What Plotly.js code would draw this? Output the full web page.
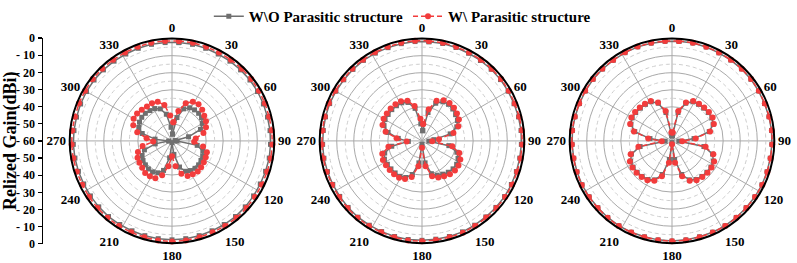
<!DOCTYPE html>
<html>
<head>
<meta charset="utf-8">
<script src="https://cdn.plot.ly/plotly-3.0.1.min.js"></script>
<style>
  html, body { margin: 0; padding: 0; background: #ffffff; }
  #chart { width: 797px; height: 263px; }
</style>
</head>
<body>
<div id="chart"></div>
<script>
// Sample angles (deg) of the measured points
const angles = [4, 12, 20, 28, 36, 44, 52, 60, 68, 76, 84, 92, 100, 108, 116, 124, 132, 140, 148, 156, 164, 172, 180,
                188, 196, 204, 212, 220, 228, 236, 244, 252, 260, 268, 276, 284, 292, 300, 308, 316, 324, 332, 340, 348, 356];

// Panel A
const woOuterA = [-2.2, -2.1, -2.2, -2.3, -2.2, -2.1, -2.0, -2.1, -2.2, -2.3, -2.2, -2.2, -2.1, -2.3, -2.4, -2.3, -2.2, -2.1, -2.2, -2.3, -2.2, -2.1, -2.0,
                  -2.1, -2.2, -2.3, -2.2, -2.1, -2.2, -2.3, -2.4, -2.3, -2.2, -2.1, -2.2, -2.3, -2.2, -2.1, -2.0, -2.1, -2.2, -2.3, -2.2, -2.1, -2.2];
const woInnerA = [-56, -46, -40, -38, -37.5, -37.5, -38, -39.5, -42, -50, -58, -57, -45, -41, -40, -39.5, -39, -39, -39.5, -40.5, -44, -52, -59,
                  -50, -42, -39.5, -38.5, -38.5, -39, -39.5, -40.5, -43, -50, -58, -50, -42, -39, -38, -37.5, -37.5, -38, -38.5, -40, -44, -52];
const wOuterA  = [-1.2, -1.1, -1.2, -1.3, -1.2, -1.1, -1.0, -1.1, -1.2, -1.3, -1.2, -1.1, -1.2, -1.3, -1.4, -1.3, -1.2, -1.1, -1.2, -1.3, -1.2, -1.1, -1.0,
                  -1.1, -1.2, -1.3, -1.2, -1.1, -1.2, -1.3, -1.4, -1.3, -1.2, -1.1, -1.2, -1.3, -1.2, -1.1, -1.0, -1.1, -1.2, -1.3, -1.2, -1.1, -1.2];
const wInnerA  = [-49, -42, -36.5, -34, -33.5, -34.5, -36, -37, -38.5, -41, -46, -47, -41.5, -38.5, -38, -37.5, -37, -36.5, -37, -37.5, -40, -45, -51,
                  -45, -39, -36, -35.5, -35.5, -36.5, -37, -37.5, -39, -42.5, -49, -45, -39, -35.5, -34, -34, -34.5, -35, -35, -35.5, -38.5, -45];

// Panel B
const woOuterB = [-1.7, -1.6, -1.7, -1.8, -1.7, -1.6, -1.6, -1.7, -1.8, -1.7, -1.6, -1.7, -1.8, -1.8, -1.7, -1.6, -1.7, -1.8, -1.7, -1.6, -1.7, -1.8, -1.7,
                  -1.6, -1.7, -1.8, -1.7, -1.6, -1.7, -1.8, -1.8, -1.7, -1.6, -1.7, -1.8, -1.7, -1.6, -1.7, -1.8, -1.7, -1.6, -1.7, -1.8, -1.7, -1.6];
const woInnerB = [-54, -43, -36.5, -34, -33.5, -34, -35, -36, -38, -43, -53, -56, -44, -38.5, -36.5, -35.5, -35.5, -36, -37, -38, -40, -47, -58,
                  -47, -39.5, -36.5, -35.5, -35.5, -35.5, -35.5, -35.5, -37, -42, -52, -46, -39.5, -36, -35, -34.8, -34.5, -34.5, -34.7, -36, -40.5, -50];
const wOuterB  = [-1.2, -1.1, -1.2, -1.3, -1.2, -1.1, -1.1, -1.2, -1.3, -1.2, -1.1, -1.2, -1.3, -1.3, -1.2, -1.1, -1.2, -1.3, -1.2, -1.1, -1.2, -1.3, -1.2,
                  -1.1, -1.2, -1.3, -1.2, -1.1, -1.2, -1.3, -1.3, -1.2, -1.1, -1.2, -1.3, -1.2, -1.1, -1.2, -1.3, -1.2, -1.1, -1.2, -1.3, -1.2, -1.1];
const wInnerB  = [-50, -41, -35, -33, -32.5, -33, -34, -35, -37, -41, -50, -54, -42, -37, -35, -34.2, -34, -34.5, -35.5, -36.5, -38.5, -45, -56,
                  -45, -38, -35.5, -34.6, -34.5, -34.5, -34.5, -34.5, -35.5, -40, -51, -45, -38, -35, -34, -33.8, -33.5, -33.5, -33.7, -35, -39, -47];

// Panel C
const woOuterC = [-1.4, -1.3, -1.4, -1.5, -1.4, -1.3, -1.3, -1.4, -1.5, -1.4, -1.3, -1.4, -1.5, -1.4, -1.3, -1.4, -1.5, -1.4, -1.3, -1.4, -1.5, -1.4, -1.3,
                  -1.4, -1.5, -1.4, -1.3, -1.4, -1.5, -1.4, -1.3, -1.4, -1.5, -1.4, -1.3, -1.4, -1.5, -1.4, -1.3, -1.4, -1.5, -1.4, -1.3, -1.4, -1.5];
const woInnerC = [-57, -43, -36.5, -34, -33.5, -33.3, -33, -33, -34, -37.5, -47, -56, -41, -35, -33, -32.5, -32.5, -32.8, -33.3, -35, -39.5, -49, -59,
                  -49, -39.5, -35, -33.3, -32.8, -32.5, -32.5, -33, -35, -41, -56, -47, -37.5, -34, -33, -33, -33.3, -33.5, -34, -36.5, -43, -57];
const wOuterC  = [-1.2, -1.1, -1.2, -1.3, -1.2, -1.1, -1.1, -1.2, -1.3, -1.2, -1.1, -1.2, -1.3, -1.2, -1.1, -1.2, -1.3, -1.2, -1.1, -1.2, -1.3, -1.2, -1.1,
                  -1.2, -1.3, -1.2, -1.1, -1.2, -1.3, -1.2, -1.1, -1.2, -1.3, -1.2, -1.1, -1.2, -1.3, -1.2, -1.1, -1.2, -1.3, -1.2, -1.1, -1.2, -1.3];
const wInnerC  = [-55, -42, -36, -33.5, -33, -32.8, -32.5, -32.5, -33.5, -37, -46, -54, -40, -34.5, -32.5, -32, -32, -32.3, -32.8, -34.5, -38.5, -47, -58,
                  -47, -38.5, -34.5, -32.8, -32.3, -32, -32, -32.5, -34.5, -40, -54, -46, -37, -33.5, -32.5, -32.5, -32.8, -33, -33.5, -36, -42, -55];

// Axis ticks and labels
const angleTicks = [0, 30, 60, 90, 120, 150, 180, 210, 240, 270, 300, 330];
const gainTickVals = [0, 10, 20, 30, 40, 50, 60, 70, 80, 90, 100, 110, 120];
const gainTickText = ['0', '- 10', '- 20', '- 30', '- 40', '- 50', '- 60', '- 50', '- 40', '- 30', '- 20', '- 10', '0'];
const solidRings = [-50, -40, -30, -20, -10];
const dashedRings = [-55, -45, -35, -25, -15, -5];

const legendNames = ['W\\O Parasitic structure', 'W\\ Parasitic structure'];

const GREY = '#6f6f6f';
const RED = '#f23c3c';
const GRID = '#a9a9a9';
const GRID_MINOR = '#cdcdcd';
const FONT = 'Liberation Serif, Times New Roman, serif';

// Domain of each polar panel (paper fraction); all three share the same vertical extent
const yDom = [20 / 263, 227 / 263];
const panels = [
  { id: 'polar',  x: [68.5 / 797, 275.5 / 797], wo: [woOuterA, woInnerA], w: [wOuterA, wInnerA] },
  { id: 'polar2', x: [318.5 / 797, 525.5 / 797], wo: [woOuterB, woInnerB], w: [wOuterB, wInnerB] },
  { id: 'polar3', x: [568.5 / 797, 775.5 / 797], wo: [woOuterC, woInnerC], w: [wOuterC, wInnerC] }
];

const closeLoop = arr => arr.concat([arr[0]]);
const thetaClosed = closeLoop(angles);

const traces = [];
const layout = {
  width: 797, height: 263,
  margin: { l: 0, r: 0, t: 0, b: 0 },
  paper_bgcolor: '#ffffff', plot_bgcolor: '#ffffff',
  font: { family: FONT, color: '#000000' },
  showlegend: true,
  legend: {
    orientation: 'h', x: 0.262, xanchor: 'left', y: 1.012, yanchor: 'top',
    font: { family: FONT, size: 15, color: '#000000', weight: 'bold' },
    bgcolor: 'rgba(0,0,0,0)', itemwidth: 30
  },
  xaxis: { domain: [43 / 797, 44 / 797], visible: false, range: [0, 1], fixedrange: true },
  yaxis: {
    domain: [19.5 / 263, 227.5 / 263], range: [0, 120], anchor: 'x', side: 'left',
    tickmode: 'array', tickvals: gainTickVals, ticktext: gainTickText,
    ticks: 'outside', ticklen: 4, tickwidth: 1.2, tickcolor: '#000000',
    showline: true, linecolor: '#000000', linewidth: 1.5,
    showgrid: false, zeroline: false,
    tickfont: { family: FONT, size: 12, color: '#000000', weight: 'bold' }
  },
  annotations: [{
    text: 'Relized Gain(dBi)', textangle: -90, showarrow: false,
    xref: 'paper', yref: 'paper', x: 11 / 797, y: 0.4696, xanchor: 'center', yanchor: 'middle',
    font: { family: FONT, size: 18, color: '#000000', weight: 'bold' }
  }]
};

// Empty cartesian trace so the gain scale on the left is drawn
traces.push({ type: 'scatter', x: [], y: [], xaxis: 'x', yaxis: 'y', showlegend: false, hoverinfo: 'skip' });

// Dense angle list for the dashed intermediate rings
const ringTheta = [];
for (let a = 0; a <= 360; a += 2) ringTheta.push(a);

panels.forEach((p, i) => {
  layout[p.id] = {
    domain: { x: p.x, y: yDom },
    bgcolor: '#ffffff',
    angularaxis: {
      rotation: 90, direction: 'clockwise',
      tickmode: 'array', tickvals: angleTicks, ticktext: angleTicks.map(String),
      showline: true, linecolor: '#000000', linewidth: 2,
      showgrid: true, gridcolor: GRID, gridwidth: 1, ticks: '', ticklen: 0,
      tickfont: { family: FONT, size: 13, color: '#000000', weight: 'bold' }
    },
    radialaxis: {
      range: [-60, 0], tickmode: 'array', tickvals: solidRings,
      showticklabels: false, ticks: '', showline: false,
      showgrid: true, gridcolor: GRID, gridwidth: 1
    }
  };

  // dashed rings
  const rr = [], tt = [];
  dashedRings.forEach(level => {
    ringTheta.forEach(a => { rr.push(level); tt.push(a); });
    rr.push(null); tt.push(null);
  });
  traces.push({
    type: 'scatterpolar', subplot: p.id, r: rr, theta: tt, mode: 'lines',
    line: { color: GRID_MINOR, width: 1, dash: '4px,3px' },
    connectgaps: false, showlegend: false, hoverinfo: 'skip'
  });

  // without parasitic structure (grey squares)
  p.wo.forEach((vals, k) => {
    traces.push({
      type: 'scatterpolar', subplot: p.id, r: closeLoop(vals), theta: thetaClosed,
      mode: 'lines+markers', name: legendNames[0], legendgroup: 'wo',
      showlegend: i === 0 && k === 0,
      line: { color: GREY, width: 1.5 },
      marker: { symbol: 'square', size: 5, color: GREY }
    });
  });

  // with parasitic structure (red circles, dashed line)
  p.w.forEach((vals, k) => {
    traces.push({
      type: 'scatterpolar', subplot: p.id, r: closeLoop(vals), theta: thetaClosed,
      mode: 'lines+markers', name: legendNames[1], legendgroup: 'w',
      showlegend: i === 0 && k === 0,
      line: { color: RED, width: 1.5, dash: '5px,3px' },
      marker: { symbol: 'circle', size: 6, color: RED }
    });
  });
});

Plotly.newPlot('chart', traces, layout, { staticPlot: true, displayModeBar: false });
</script>
</body>
</html>
